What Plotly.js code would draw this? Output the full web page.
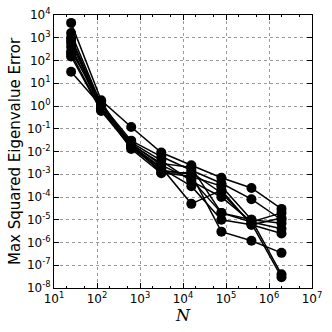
<!DOCTYPE html>
<html>
<head>
<meta charset="utf-8">
<script src="https://cdn.plot.ly/plotly-3.0.1.min.js"></script>
<style>
  html, body { margin: 0; padding: 0; background: #fff; }
  #plot { width: 332px; height: 332px; }
</style>
</head>
<body>
<div id="plot"></div>
<script>
// problem sizes (powers of 5)
const sizes = [25, 125, 625, 3125, 15625, 78125, 390625, 1953125];

// max squared eigenvalue error per run
const run1  = [4500, 1.8, 0.12, 0.009, 0.0025, 0.0007, 0.00025, 0.00003];
const run2  = [1600, 1.2, 0.03, 0.006, 0.0015, 0.0004, 0.00008, 0.00001];
const run3  = [800, 0.9, 0.025, 0.004, 0.0005, 0.0001, 0.000008, 0.00002];
const run4  = [400, 0.7, 0.02, 0.003, 0.002, 0.00002, 0.000008, 0.000004];
const run5  = [250, 1.5, 0.018, 0.002, 0.00005, 0.0002, 0.000006, 0.000012];
const run6  = [150, 0.6, 0.015, 0.0015, 0.001, 0.000003, 0.0000012, 0.00000035];
const run7  = [32, 1.0, 0.02, 0.0012, 0.0008, 0.0003, 0.00001, 0.00000004];
const run8  = [600, 0.8, 0.013, 0.0011, 0.0012, 0.00015, 0.000007, 0.00000003];
const run9  = [200, 0.65, 0.022, 0.0025, 0.0006, 0.00002, 0.00001, 0.000007];
const run10 = [1000, 1.1, 0.016, 0.0018, 0.0003, 0.00001, 0.000006, 0.0000025];

const runs = [run1, run2, run3, run4, run5, run6, run7, run8, run9, run10];

// tick exponents
const xExp = [1, 2, 3, 4, 5, 6, 7];
const yExp = [-8, -7, -6, -5, -4, -3, -2, -1, 0, 1, 2, 3, 4];

const powVals = e => e.map(k => Math.pow(10, k));
const powText = e => e.map(k => '10<sup>' + k + '</sup>');

const traces = runs.map(r => ({
  x: sizes,
  y: r,
  type: 'scatter',
  mode: 'lines+markers',
  line: { color: '#000', width: 1.5 },
  marker: { color: '#000', size: 10 },
  showlegend: false
}));

const axisCommon = {
  type: 'log',
  showline: true,
  mirror: 'allticks',
  linecolor: '#000',
  linewidth: 1,
  ticks: 'inside',
  ticklen: 5,
  tickcolor: '#000',
  showgrid: true,
  gridcolor: '#999',
  griddash: 'dot',
  gridwidth: 1,
  zeroline: false,
  tickfont: { family: 'DejaVu Sans', size: 12, color: '#000' },
  minor: { ticks: 'inside', ticklen: 2, tickcolor: '#000', showgrid: false }
};

const layout = {
  width: 332,
  height: 332,
  margin: { l: 54, r: 20, t: 15, b: 44 },
  paper_bgcolor: '#fff',
  plot_bgcolor: '#fff',
  xaxis: Object.assign({}, axisCommon, {
    range: [1, 7],
    tickmode: 'array',
    tickvals: powVals(xExp),
    ticktext: powText(xExp),
    title: { text: '<i>N</i>', font: { family: 'DejaVu Serif', size: 16, color: '#000' }, standoff: 4 }
  }),
  yaxis: Object.assign({}, axisCommon, {
    range: [-8, 4],
    tickmode: 'array',
    tickvals: powVals(yExp),
    ticktext: powText(yExp),
    title: { text: 'Max Squared Eigenvalue Error', font: { family: 'DejaVu Sans', size: 15, color: '#000' }, standoff: 2 }
  })
};

Plotly.newPlot('plot', traces, layout, { displayModeBar: false, staticPlot: true });
</script>
</body>
</html>
